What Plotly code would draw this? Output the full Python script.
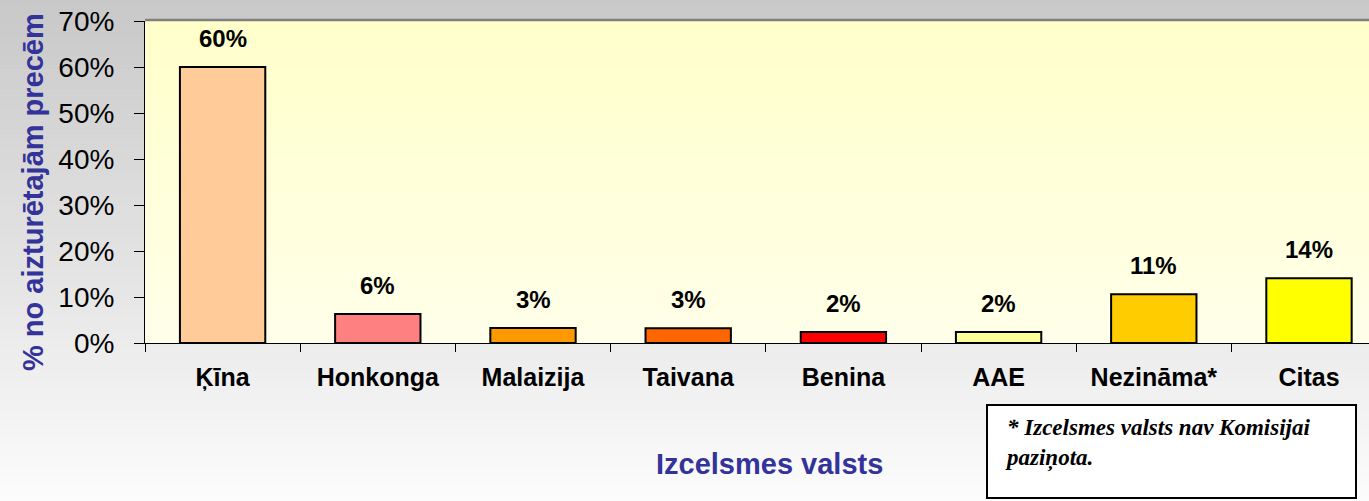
import plotly.graph_objects as go

# ---- data ----
categories = ["Ķīna", "Honkonga", "Malaizija", "Taivana", "Benina", "AAE", "Nezināma*", "Citas"]
values = [60, 6.3, 3.25, 3.2, 2.4, 2.4, 10.6, 14.1]
bar_colors = ["#ffcc99", "#ff8080", "#ff9900", "#ff6600", "#ff0000", "#ffff99", "#ffcc00", "#ffff00"]
y_ticks = [0, 10, 20, 30, 40, 50, 60, 70]
y_title = "% no aizturētajām precēm"
x_title = "Izcelsmes valsts"
footnote = "<b><i>* Izcelsmes valsts nav Komisijai<br>paziņota.</i></b>"

W, H = 1369, 501
ML, MR, MT, MB = 145, 0, 21, 158
PW, PH = W - ML - MR, H - MT - MB

def px_to_paper_x(px):
    return (px - ML) / PW

def px_to_paper_y(py):
    return (H - MB - py) / PH

font_family = "Arial, Liberation Sans, sans-serif"

fig = go.Figure()
fig.add_trace(go.Bar(
    x=categories, y=values,
    marker=dict(color=bar_colors, line=dict(color="black", width=2)),
    width=0.55,
    hoverinfo="skip",
))

shapes = []
# outer background gradient (grey at top -> almost white at bottom)
n_out = 100
for i in range(n_out):
    y0p = i * H / n_out
    y1p = (i + 1) * H / n_out + 0.5
    g = int(round(200 + (252 - 200) * (i + 0.5) / n_out))
    c = f"rgb({g},{g},{g})"
    shapes.append(dict(type="rect", xref="paper", yref="paper",
                       x0=px_to_paper_x(0), x1=px_to_paper_x(W),
                       y0=px_to_paper_y(y1p), y1=px_to_paper_y(y0p),
                       fillcolor=c, line=dict(width=0), layer="below"))
# plot area gradient (light yellow)
n_in = 40
for i in range(n_in):
    b = int(round(202 + (234 - 202) * (i + 0.5) / n_in))
    c = f"rgb(255,255,{b})"
    shapes.append(dict(type="rect", xref="paper", yref="paper",
                       x0=0, x1=1,
                       y0=1 - (i + 1) / n_in - 0.002, y1=1 - i / n_in,
                       fillcolor=c, line=dict(width=0), layer="below"))
# grey top border of plot area
shapes.append(dict(type="line", xref="paper", yref="paper", x0=0, x1=1, y0=1.003, y1=1.003,
                   line=dict(color="#808080", width=2.5), layer="above"))
# footnote box
shapes.append(dict(type="rect", xref="paper", yref="paper",
                   x0=px_to_paper_x(987), x1=px_to_paper_x(1356),
                   y0=px_to_paper_y(498), y1=px_to_paper_y(405),
                   fillcolor="white", line=dict(color="black", width=2), layer="above"))

annotations = []
for cat, v in zip(categories, values):
    annotations.append(dict(x=cat, y=v, xref="x", yref="y", text=f"<b>{round(v)}%</b>",
                            showarrow=False, xanchor="center", yanchor="bottom", yshift=13,
                            font=dict(family=font_family, size=24, color="black")))
annotations.append(dict(x=px_to_paper_x(33), y=px_to_paper_y(192), xref="paper", yref="paper",
                        text=f"<b>{y_title}</b>", textangle=-90, showarrow=False,
                        xanchor="center", yanchor="middle",
                        font=dict(family=font_family, size=29, color="#333399")))
annotations.append(dict(x=px_to_paper_x(769), y=px_to_paper_y(464), xref="paper", yref="paper",
                        text=f"<b>{x_title}</b>", showarrow=False,
                        xanchor="center", yanchor="middle",
                        font=dict(family=font_family, size=29, color="#333399")))
annotations.append(dict(x=px_to_paper_x(1003), y=px_to_paper_y(443), xref="paper", yref="paper",
                        text=footnote, showarrow=False, xanchor="left", yanchor="middle", align="left",
                        font=dict(family="Times New Roman, Liberation Serif, serif", size=23, color="black")))

fig.update_layout(
    width=W, height=H,
    margin=dict(l=ML, r=MR, t=MT, b=MB, pad=0),
    paper_bgcolor="#e6e6e6",
    plot_bgcolor="rgba(0,0,0,0)",
    showlegend=False,
    shapes=shapes,
    annotations=annotations,
    bargap=0.45,
    xaxis=dict(
        range=[-0.5, -0.5 + PW / 155.2],
        showline=True, linecolor="black", linewidth=1,
        ticks="outside", tickson="boundaries", ticklen=8, tickcolor="black", tickwidth=1,
        showgrid=False, zeroline=False,
        tickfont=dict(family=font_family, size=25, color="black", weight="bold"),
        ticklabelstandoff=12,
    ),
    yaxis=dict(
        range=[0, 70], tickvals=y_ticks, ticktext=[f"{t}%" for t in y_ticks],
        showline=True, linecolor="black", linewidth=1,
        ticks="outside", ticklen=10, tickcolor="black", tickwidth=1,
        showgrid=False, zeroline=False,
        tickfont=dict(family=font_family, size=28, color="black"),
        ticklabelstandoff=14,
    ),
)

fig.write_html("out.html", config={"displayModeBar": False},
               post_script="document.body.style.margin='0';document.body.style.overflow='hidden';")
